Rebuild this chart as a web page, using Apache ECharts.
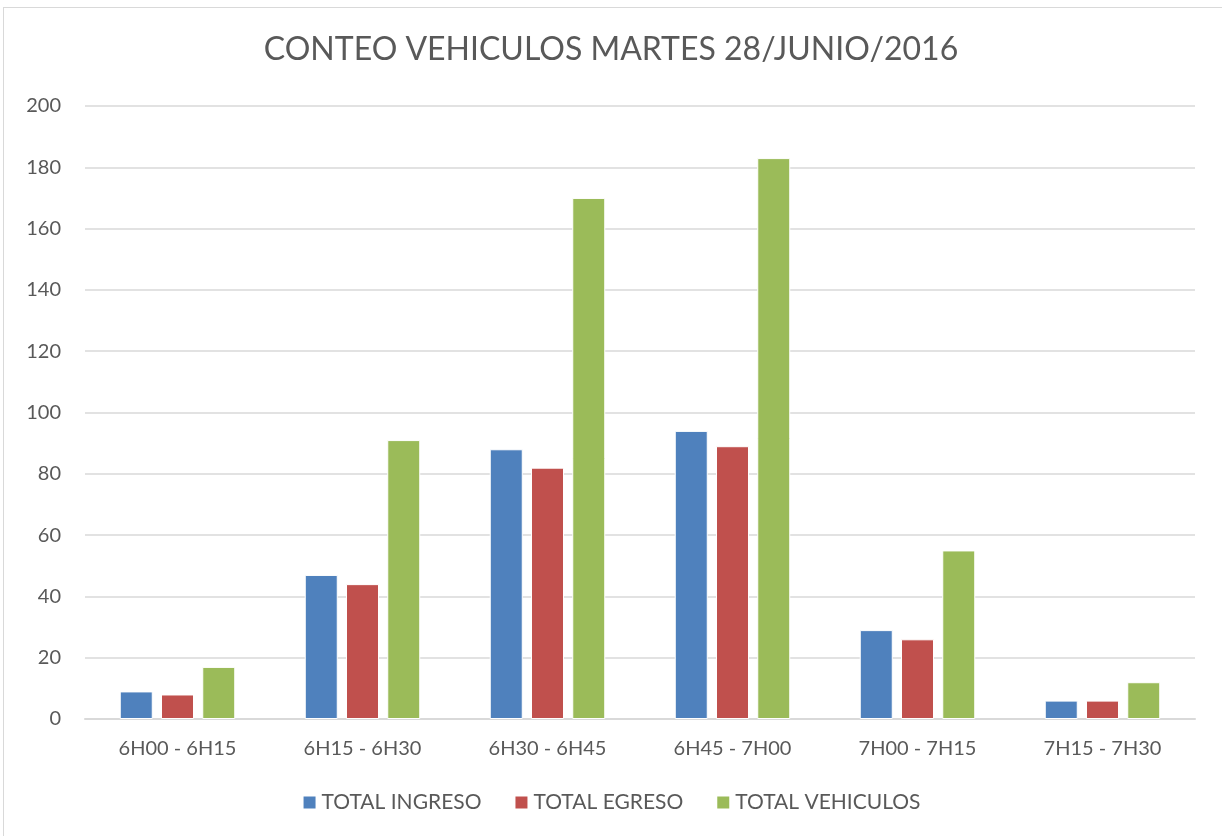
<!DOCTYPE html>
<html>
<head>
<meta charset="utf-8">
<script src="https://cdn.jsdelivr.net/npm/echarts@6/dist/echarts.min.js"></script>
<style>
  html, body { margin: 0; padding: 0; background: #fff; }
  #frame { position: absolute; left: 3px; top: 7px; width: 1230px; height: 840px; border: 1px solid #d9d9d9; box-sizing: border-box; }
  #chart { position: absolute; left: 0; top: 0; width: 1222px; height: 836px; }
</style>
</head>
<body>
<div id="frame"></div>
<div id="chart"></div>
<script>
// datos del conteo
var categorias = ['6H00 - 6H15', '6H15 - 6H30', '6H30 - 6H45', '6H45 - 7H00', '7H00 - 7H15', '7H15 - 7H30'];
var totalIngreso = [9, 47, 88, 94, 29, 6];
var totalEgreso = [8, 44, 82, 89, 26, 6];
var totalVehiculos = [17, 91, 170, 183, 55, 12];

var fuente = 'Lato';
var gris = '#595959';

function serie(nombre, datos, color) {
  return {
    name: nombre,
    type: 'bar',
    data: datos,
    barWidth: 33,
    barGap: '25%',
    itemStyle: { color: color, borderColor: '#fff', borderWidth: 1 }
  };
}

var myChart = echarts.init(document.getElementById('chart'));
var option = {
  animation: false,
  title: {
    text: 'CONTEO VEHICULOS MARTES 28/JUNIO/2016',
    left: 'center',
    top: 29,
    textStyle: { fontFamily: fuente, fontSize: 32, fontWeight: 'normal', color: gris }
  },
  legend: {
    bottom: 18,
    left: 'center',
    itemWidth: 14,
    itemHeight: 14,
    itemGap: 32,
    icon: 'rect',
    textStyle: { fontFamily: fuente, fontSize: 21, color: gris }
  },
  grid: { left: 85, right: 27, top: 106, bottom: 117 },
  xAxis: {
    type: 'category',
    data: categorias,
    axisLine: { lineStyle: { color: '#d9d9d9', width: 2 } },
    axisTick: { show: false },
    axisLabel: { fontFamily: fuente, fontSize: 20, color: gris, margin: 20 }
  },
  yAxis: {
    type: 'value',
    min: 0,
    max: 200,
    interval: 20,
    axisLine: { show: false },
    axisTick: { show: false },
    splitLine: { lineStyle: { color: '#d9d9d9', width: 1.5 } },
    axisLabel: { fontFamily: fuente, fontSize: 20, color: gris, margin: 24 }
  },
  series: [
    serie('TOTAL INGRESO', totalIngreso, '#4f81bd'),
    serie('TOTAL EGRESO', totalEgreso, '#c0504d'),
    serie('TOTAL VEHICULOS', totalVehiculos, '#9bbb59')
  ]
};
myChart.setOption(option);
</script>
</body>
</html>
